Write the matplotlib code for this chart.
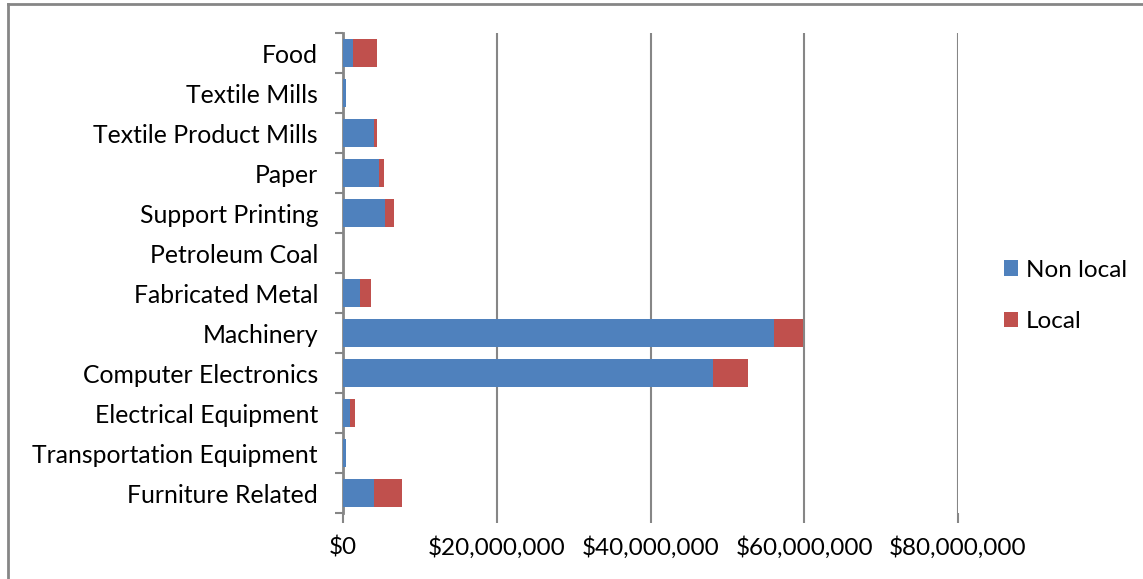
import numpy as np
import matplotlib.pyplot as plt
from matplotlib.ticker import FuncFormatter, MultipleLocator
from matplotlib.lines import Line2D

plt.rcParams['font.family'] = ['Lato', 'DejaVu Sans']

categories = ["Food", "Textile Mills", "Textile Product Mills", "Paper",
              "Support Printing", "Petroleum Coal", "Fabricated Metal",
              "Machinery", "Computer Electronics", "Electrical Equipment",
              "Transportation Equipment", "Furniture Related"]

# valori in dollari
non_local = [1340000, 380000, 4070000, 4630000, 5500000, 0, 2250000,
             56070000, 48150000, 950000, 380000, 3980000]
local = [3070000, 0, 350000, 700000, 1130000, 0, 1430000,
         3780000, 4500000, 610000, 0, 3680000]

blue = '#4f81bd'
red = '#c0504d'
grey = '#868686'

fig = plt.figure(figsize=(11.43, 5.79), dpi=100)
ax = fig.add_axes([343/1143, 1-513/579, (958-343)/1143, 480/579])

y = np.arange(len(categories))
ax.barh(y, non_local, height=0.7, color=blue, label='Non local', zorder=3)
ax.barh(y, local, left=non_local, height=0.7, color=red, label='Local', zorder=3)

ax.set_ylim(len(categories)-0.5, -0.5)
ax.set_xlim(0, 80000000)
ax.xaxis.set_major_locator(MultipleLocator(20000000))
ax.xaxis.set_major_formatter(FuncFormatter(lambda v, p: '${:,.0f}'.format(v)))
ax.grid(axis='x', color=grey, linewidth=1.5, zorder=0)

ax.set_yticks(y)
ax.set_yticklabels(categories)
ax.set_yticks(np.arange(len(categories)+1)-0.5, minor=True)
ax.tick_params(axis='y', which='major', length=0, pad=18, labelsize=17.8)
ax.tick_params(axis='y', which='minor', length=6, width=1.5, color=grey)
ax.tick_params(axis='x', length=7, width=1.5, color=grey, pad=10, labelsize=17.5)

for s in ['top', 'right', 'bottom']:
    ax.spines[s].set_visible(False)
ax.spines['left'].set_color(grey)
ax.spines['left'].set_linewidth(2)
ax.spines['left'].set_zorder(2)

leg = fig.legend(loc='upper left', bbox_to_anchor=(994/1143, 1-250/579),
                 frameon=False, fontsize=17.5, handlelength=0.6, handleheight=0.6,
                 handletextpad=0.3, labelspacing=1.25, borderaxespad=0)

# cornice esterna
fig.add_artist(Line2D([8/1143, 8/1143], [0, 1-4/579], color=grey, linewidth=2))
fig.add_artist(Line2D([8/1143, 1], [1-4/579, 1-4/579], color=grey, linewidth=2))

fig.savefig('out.png', dpi=100)
